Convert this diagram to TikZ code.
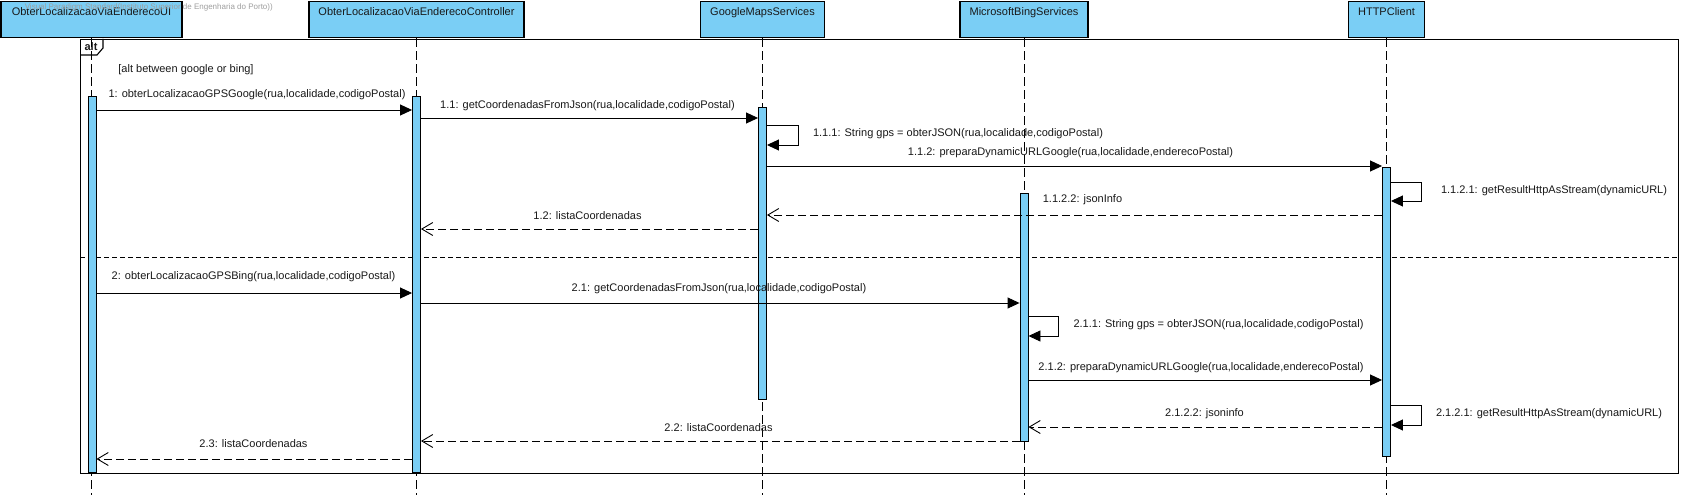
\documentclass[tikz,border=0pt]{standalone}
\usepackage{fontspec}
\setmainfont{Liberation Sans}
\usetikzlibrary{arrows.meta}
\definecolor{vpblue}{RGB}{122,206,245}
\definecolor{vptext}{RGB}{25,25,25}
\begin{document}
\begin{tikzpicture}[x=1pt,y=-1pt,
  every node/.style={font=\fontsize{11}{13}\selectfont, text=vptext, inner sep=0pt},
  head/.style={draw, fill=vpblue, line width=1.1pt, inner xsep=0pt, inner ysep=0pt,
               text height=14pt, text depth=22pt, anchor=north},
  act/.style={draw, fill=vpblue, line width=0.9pt, minimum width=8pt, inner sep=0pt},
  lifeline/.style={line width=0.8pt, dash pattern=on 9pt off 4pt},
  msg/.style={line width=0.9pt, -{Triangle[length=12pt,width=11pt]}},
  ret/.style={line width=0.9pt, dash pattern=on 8pt off 4pt, -{Straight Barb[length=11pt,width=13pt]}},
  framebox/.style={draw, line width=1.1pt, inner sep=0pt, anchor=north west},
  divider/.style={line width=0.8pt, dash pattern=on 5pt off 3pt},
  lbl/.style={anchor=center}]
\useasboundingbox (0,0) rectangle (1681,495);
\fill[white] (0,0) rectangle (1681,495);

% frame
\node[framebox, minimum width=1598pt, minimum height=434pt] (frame) at (80,39) {};
\draw[line width=1.1pt] (frame.north west) ++(23,0) -- ++(0,9) -- ++(-6,7) -- ++(-17,0);
\node[font=\fontsize{11}{13}\selectfont\bfseries] (altlbl) at (91,47) {alt};
\node[lbl] (guard) at (186,70) {[alt between google or bing]};
\draw[divider] (frame.west |- 0,257) -- (frame.east |- 0,257);

% headers
\node[head, minimum width=181pt] (hUI) at (91.5,1) {ObterLocalizacaoViaEnderecoUI};
\node[head, minimum width=215pt] (hC) at (416.5,1) {ObterLocalizacaoViaEnderecoController};
\node[head, minimum width=124pt] (hG) at (762.5,1) {GoogleMapsServices};
\node[head, minimum width=128pt] (hB) at (1024,1) {MicrosoftBingServices};
\node[head, minimum width=76pt] (hH) at (1386.5,1) {HTTPClient};
\node[font=\fontsize{8}{9}\selectfont, text=gray!75, anchor=east] (wm) at (273,7) {Visual Paradigm Standard(Instituto Superior de Engenharia do Porto))};

% lifeline ends
\coordinate (eUI) at (hUI.south |- 0,495);
\coordinate (eC) at (hC.south |- 0,495);
\coordinate (eG) at (hG.south |- 0,495);
\coordinate (eB) at (hB.south |- 0,495);
\coordinate (eH) at (hH.south |- 0,495);
\draw[lifeline] (hUI.south) -- (eUI);
\draw[lifeline] (hC.south) -- (eC);
\draw[lifeline] (hG.south) -- (eG);
\draw[lifeline] (hB.south) -- (eB);
\draw[lifeline] (hH.south) -- (eH);

% activations
\node[act, minimum height=376pt] (aUI) at (92,284) {};
\node[act, minimum height=376pt] (aC) at (416.5,284) {};
\node[act, minimum height=292pt] (aG) at (762.5,253) {};
\node[act, minimum height=248pt] (aB) at (1024,317) {};
\node[act, minimum height=289pt] (aH) at (1386.5,311.5) {};

% messages - google
\draw[msg] (aUI.east |- 0,110) -- (aC.west |- 0,110);
\node[lbl] (l1) at (257,95) {1: obterLocalizacaoGPSGoogle(rua,localidade,codigoPostal)};
\draw[msg] (aC.east |- 0,118) -- (aG.west |- 0,118);
\node[lbl] (l11) at (587.5,106) {1.1: getCoordenadasFromJson(rua,localidade,codigoPostal)};
\draw[msg] (aG.east |- 0,125) -- ++(31,0) -- ++(0,20) -- (aG.east |- 0,145);
\node[lbl] (l111) at (958,134) {1.1.1: String gps = obterJSON(rua,localidade,codigoPostal)};
\draw[msg] (aG.east |- 0,166) -- (aH.west |- 0,166);
\node[lbl] (l112) at (1070.5,153) {1.1.2: preparaDynamicURLGoogle(rua,localidade,enderecoPostal)};
\draw[msg] (aH.east |- 0,182) -- ++(30,0) -- ++(0,19) -- (aH.east |- 0,201);
\node[lbl] (l1121) at (1554,191) {1.1.2.1: getResultHttpAsStream(dynamicURL)};
\draw[ret] (aH.west |- 0,215) -- (aG.east |- 0,215);
\node[lbl] (l1122) at (1082.5,200) {1.1.2.2: jsonInfo};
\draw[ret] (aG.west |- 0,229) -- (aC.east |- 0,229);
\node[lbl] (l12) at (587.5,216) {1.2: listaCoordenadas};

% messages - bing
\draw[msg] (aUI.east |- 0,293) -- (aC.west |- 0,293);
\node[lbl] (l2) at (253.5,277) {2: obterLocalizacaoGPSBing(rua,localidade,codigoPostal)};
\draw[msg] (aC.east |- 0,303) -- (aB.west |- 0,303);
\node[lbl] (l21) at (719,289) {2.1: getCoordenadasFromJson(rua,localidade,codigoPostal)};
\draw[msg] (aB.east |- 0,316) -- ++(30,0) -- ++(0,20) -- (aB.east |- 0,336);
\node[lbl] (l211) at (1218.5,325) {2.1.1: String gps = obterJSON(rua,localidade,codigoPostal)};
\draw[msg] (aB.east |- 0,380) -- (aH.west |- 0,380);
\node[lbl] (l212) at (1201,368) {2.1.2: preparaDynamicURLGoogle(rua,localidade,enderecoPostal)};
\draw[msg] (aH.east |- 0,405) -- ++(30,0) -- ++(0,20) -- (aH.east |- 0,425);
\node[lbl] (l2121) at (1549,414) {2.1.2.1: getResultHttpAsStream(dynamicURL)};
\draw[ret] (aH.west |- 0,427) -- (aB.east |- 0,427);
\node[lbl] (l2122) at (1204.5,414) {2.1.2.2: jsoninfo};
\draw[ret] (aB.west |- 0,441) -- (aC.east |- 0,441);
\node[lbl] (l22) at (718.5,428) {2.2: listaCoordenadas};
\draw[ret] (aC.west |- 0,459) -- (aUI.east |- 0,459);
\node[lbl] (l23) at (253.5,444) {2.3: listaCoordenadas};
\end{tikzpicture}
\end{document}
